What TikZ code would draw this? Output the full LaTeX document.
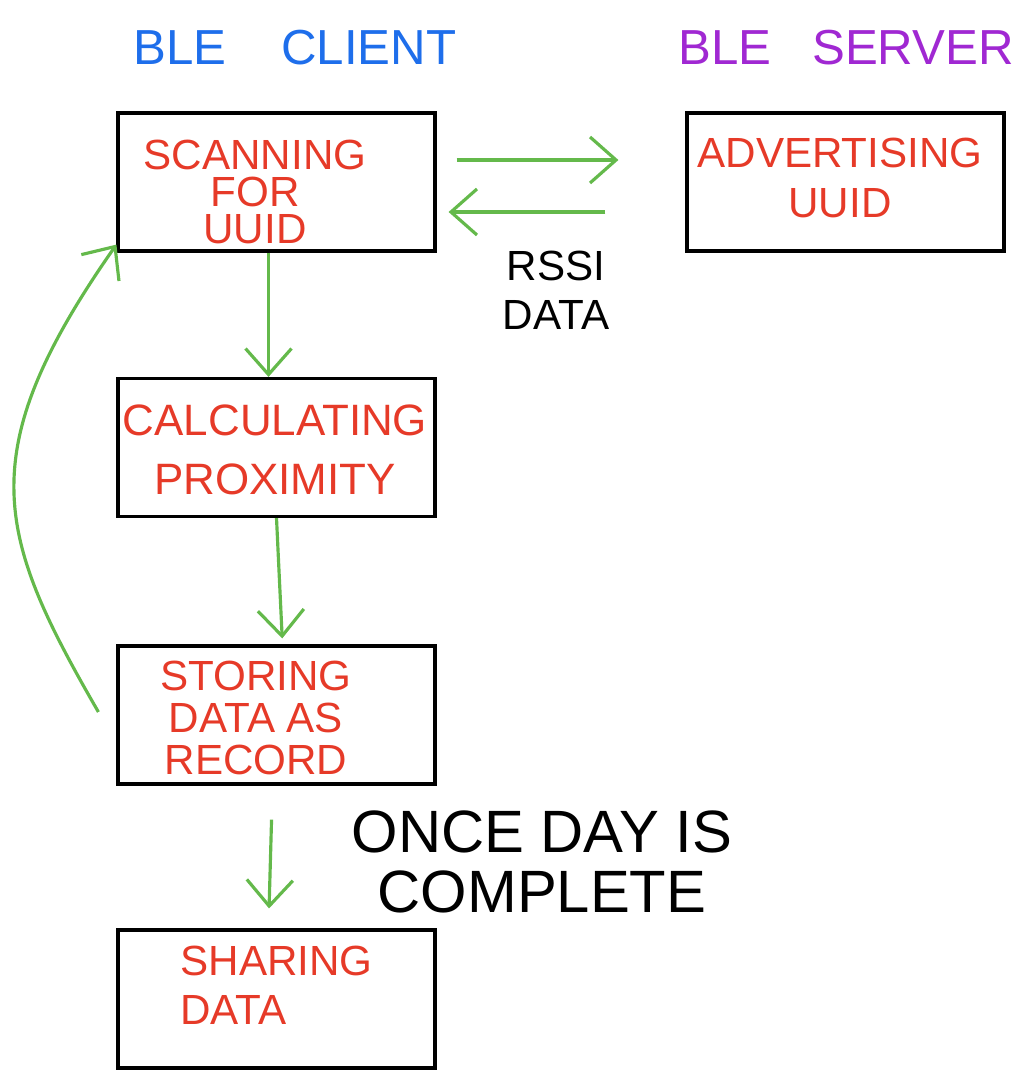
\documentclass[tikz,border=0pt]{standalone}
\usepackage{fontspec}
\setmainfont{Liberation Sans}
\usepackage{tikz}
\usetikzlibrary{arrows.meta}
\definecolor{penred}{RGB}{230,58,40}
\definecolor{penblue}{RGB}{30,110,235}
\definecolor{penpurple}{RGB}{160,40,210}
\definecolor{pengreen}{RGB}{100,185,75}
\begin{document}
\begin{tikzpicture}[
                        box/.style={draw, line width=0.9pt, minimum width=3.17cm, minimum height=1.38cm, inner sep=0pt},
                        boxtext/.style={text=penred, align=center, font=\fontsize{12}{10.5}\selectfont},
                        arr/.style={draw=pengreen, line width=0.9pt, -{Straight Barb[length=2.6mm, width=4.6mm]}},
                        note/.style={align=center, text=black}
                  ]
                        \useasboundingbox (0,0) rectangle (10.21,-10.72);
                        \node[box] (a) at (2.765,-1.82) {};
                        \node[box] (b) at (8.455,-1.82) {};
                        \node[box] (c) at (2.765,-4.475) {};
                        \node[box] (d) at (2.765,-7.15) {};
                        \node[box] (e) at (2.765,-9.99) {};
                        \node[boxtext] (ta) at (2.55,-1.92) {SCANNING\\FOR\\UUID};
                        \node[boxtext, font=\fontsize{12}{14}\selectfont] (tb) at (8.40,-1.78) {ADVERTISING\\UUID};
                        \node[boxtext, font=\fontsize{12.5}{17}\selectfont] (tc) at (2.75,-4.50) {CALCULATING\\PROXIMITY};
                        \node[boxtext, font=\fontsize{12}{12}\selectfont] (td) at (2.56,-7.18) {STORING\\DATA AS\\RECORD};
                        \node[boxtext, align=left, anchor=west, font=\fontsize{12}{14}\selectfont] (te) at (1.68,-9.85) {SHARING\\DATA};
                        \node[text=penblue, font=\fontsize{14}{14}\selectfont] (f) at (2.95,-0.48) {BLE~~~~CLIENT};
                        \node[text=penpurple, font=\fontsize{14}{14}\selectfont] (g) at (8.46,-0.48) {BLE~~~SERVER};
                        \node[note, font=\fontsize{12}{14}\selectfont] (h) at (5.56,-2.90) {RSSI\\DATA};
                        \node[note, font=\fontsize{17}{17}\selectfont] (i) at (5.42,-8.62) {ONCE DAY IS\\COMPLETE};
                        \draw[arr, shorten <=0.2cm, shorten >=0.67cm] ([yshift=0.22cm]a.east) -- ([yshift=0.22cm]b.west);
                        \draw[arr, shorten <=0.8cm, shorten >=0.12cm] ([yshift=-0.3cm]b.west) -- ([yshift=-0.3cm]a.east);
                        \draw[arr] ([xshift=-0.08cm]a.south) -- ([xshift=-0.08cm]c.north);
                        \draw[arr, shorten >=0.06cm] (c.south) -- ([xshift=0.06cm]d.north);
                        \draw[arr, shorten <=0.34cm, shorten >=0.2cm] ([xshift=-0.04cm]d.south) -- ([xshift=-0.08cm]e.north);
                        \draw[arr] ([xshift=-0.18cm,yshift=0.03cm]d.west) to[out=120, in=-125, out looseness=1.11, in looseness=1.4] ([yshift=0.08cm]a.south west);
                  \end{tikzpicture}
\end{document}
